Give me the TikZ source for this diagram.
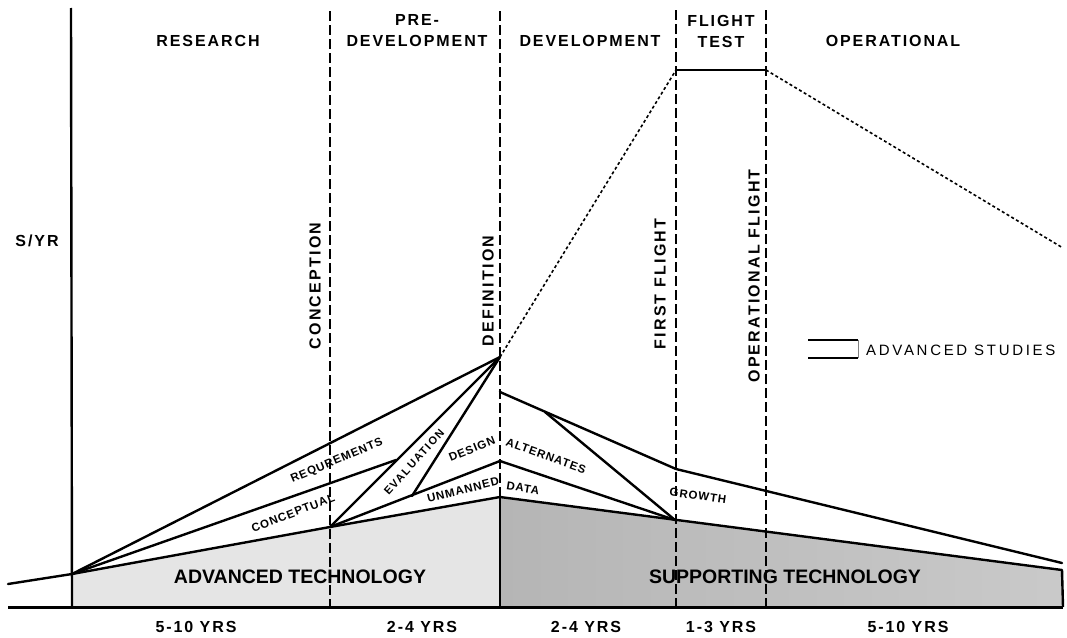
\documentclass[tikz,border=0pt]{standalone}
\usepackage{fontspec}
\setmainfont{Liberation Sans}
\newfontfamily\hdrfont{Liberation Sans}[LetterSpace=12]
\newfontfamily\vfont{Liberation Sans}[LetterSpace=14]
\newfontfamily\lblfont{Liberation Sans}[LetterSpace=8]
\newfontfamily\evfont{Liberation Sans}[LetterSpace=14]
\newfontfamily\legfont{Liberation Sans}[LetterSpace=18]
\newfontfamily\bigfont{Liberation Sans}
\tikzset{
  hdr/.style={font=\hdrfont\bfseries\fontsize{16}{21}\selectfont, align=center, inner sep=0pt},
  vlab/.style={font=\vfont\bfseries\fontsize{16}{18}\selectfont, inner sep=0pt, rotate=90},
  lbl/.style={font=\lblfont\bfseries\fontsize{11.5}{12}\selectfont, inner sep=0pt},
  evlbl/.style={font=\evfont\bfseries\fontsize{11}{12}\selectfont, inner sep=0pt},
  big/.style={font=\bigfont\bfseries\fontsize{19.5}{22}\selectfont, inner sep=0pt},
  leg/.style={font=\legfont\fontsize{15}{16}\selectfont, inner sep=0pt},
  curve/.style={line width=2.4pt, line join=round, line cap=round},
  phase/.style={line width=1.9pt, dash pattern=on 10pt off 4pt},
  devline/.style={line width=1.6pt, dash pattern=on 3pt off 2.5pt},
  axisline/.style={line width=2.4pt},
}
\begin{document}
\begin{tikzpicture}[x=1pt,y=-1pt]
\useasboundingbox (0,0) rectangle (1067,637);
% key points
\coordinate (L0) at (8,584);
\coordinate (A) at (72,574);
\coordinate (C) at (330,527);
\coordinate (P) at (500,357);
\coordinate (R) at (396,460);
\coordinate (E2) at (412,496);
\coordinate (D1) at (500,392);
\coordinate (D2) at (500,461);
\coordinate (D3) at (500,497);
\coordinate (S) at (545,412);
\coordinate (G) at (675,520);
\coordinate (F1) at (676,469);
\coordinate (RE1) at (1062,563);
\coordinate (RE2) at (1062,570);
\coordinate (FT1) at (676,70);
\coordinate (FT2) at (766,70);
\coordinate (RD) at (1063,248);
\coordinate (BL) at (8,607);
\coordinate (BA) at (72,607);
\coordinate (BD) at (500,607);
\coordinate (BE) at (1063,607);
% vertical line tops / bottoms
\coordinate (TA) at (71,8);
\coordinate (TC) at (330,11);
\coordinate (BC) at (330,607);
\coordinate (TD) at (500,11);
\coordinate (TF) at (676,10);
\coordinate (BF) at (676,607);
\coordinate (TO) at (766,10);
\coordinate (BO) at (766,607);

% shaded technology areas
\fill[gray!20] (A) -- (C) -- (D3) -- (BD) -- (BA) -- cycle;
\shade[left color=gray!58, middle color=gray!36, right color=gray!42] (D3) -- (RE2) -- (BE) -- (BD) -- cycle;

% phase boundaries
\draw[axisline] (TA) -- (BA);
\draw[phase] (TC) -- (BC);
\draw[phase] (TD) -- (D3);
\draw[axisline] (D3) -- (BD);
\draw[phase] (TF) -- (BF);
\draw[phase] (TO) -- (BO);
\draw[line width=2.2pt] (FT1) -- (FT2);
\draw[line width=3pt] (BL) -- (BE);
\draw[axisline] (RE2) -- (BE);

% development curves (dashed)
\draw[devline] (P) -- (FT1);
\draw[devline] (FT2) -- (RD);

% study curves
\draw[curve] (L0) -- (A);
\draw[curve] (A) -- (P);
\draw[curve] (A) -- (R);
\draw[curve] (A) -- (C);
\draw[curve] (C) -- (P);
\draw[curve] (E2) -- (P);
\draw[curve] (C) -- (D2);
\draw[curve] (C) -- (D3);
\draw[curve] (D1) -- (F1) -- (RE1);
\draw[curve] (S) -- (G);
\draw[curve] (D2) -- (G);
\draw[curve] (D3) -- (RE2);

% headers
\node[hdr] (research) at (208,41) {RESEARCH};
\node[hdr] (predev) at (417,31) {PRE-\\DEVELOPMENT};
\node[hdr] (dev) at (590,41) {DEVELOPMENT};
\node[hdr] (ftest) at (721,31) {FLIGHT\\TEST};
\node[hdr] (oper) at (893,41) {OPERATIONAL};
\node[hdr] (dollar) at (37,241) {S/YR};

% milestone labels
\node[vlab] (concep) at (315,286) {CONCEPTION};
\node[vlab] (defin) at (488,291) {DEFINITION};
\node[vlab] (fflight) at (660,284) {FIRST FLIGHT};
\node[vlab] (oflight) at (754,276) {OPERATIONAL FLIGHT};

% legend
\coordinate (LG1) at (808,340);
\coordinate (LG2) at (858,340);
\coordinate (LG3) at (858,358);
\coordinate (LG4) at (808,358);
\draw[line width=2pt] (LG1) -- (LG2);
\draw[line width=2pt] (LG4) -- (LG3);
\draw[line width=0.4pt, gray] (LG2) -- (LG3);
\node[leg, anchor=west] (legtext) at (866,350) {ADVANCED STUDIES};

% area labels
\node[lbl, rotate=23] (req) at (337,461) {REQUREMENTS};
\node[lbl, rotate=21] (concl) at (293,513) {CONCEPTUAL};
\node[evlbl, rotate=48] (eval) at (414,462) {EVALUATION};
\node[lbl, rotate=22] (design) at (472,449) {DESIGN};
\node[lbl, rotate=14] (unman) at (463,490) {UNMANNED};
\node[lbl, rotate=-20] (alt) at (546,456) {ALTERNATES};
\node[lbl, rotate=-9] (data) at (523,488) {DATA};
\node[lbl, rotate=-8] (growth) at (698,496) {GROWTH};

\node[big] (advtech) at (300,577) {ADVANCED TECHNOLOGY};
\node[big] (suptech) at (785,577) {SUPPORTING TECHNOLOGY};

% durations
\node[hdr] (y1) at (196,627) {5-10 YRS};
\node[hdr] (y2) at (422,627) {2-4 YRS};
\node[hdr] (y3) at (586,627) {2-4 YRS};
\node[hdr] (y4) at (721,627) {1-3 YRS};
\node[hdr] (y5) at (908,627) {5-10 YRS};
\end{tikzpicture}
\end{document}
